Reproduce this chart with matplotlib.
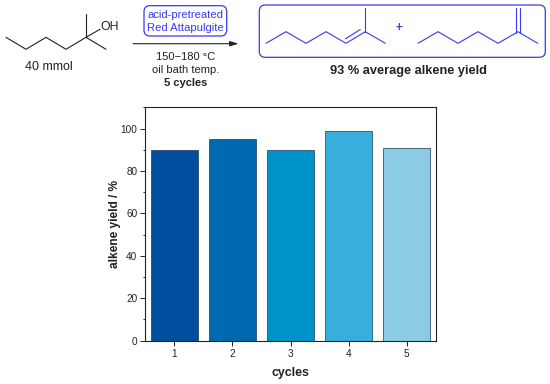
import matplotlib
matplotlib.use("Agg")
import matplotlib.pyplot as plt
from matplotlib.patches import FancyBboxPatch
from matplotlib.ticker import MultipleLocator

plt.rcParams['font.family'] = ['Liberation Sans', 'DejaVu Sans']

cycles = [1, 2, 3, 4, 5]
yields = [90, 95, 90, 99, 91]
bar_colors = ['#004f9f', '#0069b0', '#0093c9', '#37aedb', '#8ccbe4']
xlabel = 'cycles'
ylabel = 'alkene yield / %'

W, H = 550, 384
BLUE = '#3a3aee'
DARK = '#222222'

fig = plt.figure(figsize=(W / 100, H / 100), dpi=100, facecolor='white')

# overlay in pixel coordinates for the reaction scheme
ov = fig.add_axes([0, 0, 1, 1])
ov.set_xlim(0, W)
ov.set_ylim(H, 0)
ov.axis('off')


def line(pts, color=DARK, lw=0.8):
    ov.plot([p[0] for p in pts], [p[1] for p in pts], color=color, lw=lw,
            solid_capstyle='round', solid_joinstyle='round')


def label(x, y, s, size=8.0, color=DARK, weight='normal'):
    ov.text(x, y, s, fontsize=size, color=color, fontweight=weight,
            ha='center', va='center')


def rbox(x0, y0, x1, y1, r):
    ov.add_patch(FancyBboxPatch((x0 + r, y0 + r), x1 - x0 - 2 * r, y1 - y0 - 2 * r,
                                boxstyle=f'round,pad={r}', fc='none', ec=BLUE, lw=0.9))


# substrate
line([(6, 37.3), (26, 49.3), (46, 37.3), (66, 49.3), (86, 37.3), (106, 49.3)])
line([(86, 37.3), (86, 14)])
line([(86, 37.3), (100, 29.3)])
label(110, 27, 'OH', size=8.8)
label(49, 67, '40 mmol', size=9.0)

# arrow and conditions
ov.annotate('', xy=(238.5, 43.7), xytext=(133, 43.7),
            arrowprops=dict(arrowstyle='-|>,head_length=0.5,head_width=0.15',
                            color=DARK, lw=0.8, shrinkA=0, shrinkB=0))
rbox(144, 5.7, 226.7, 36, 6)
label(185, 14.7, 'acid-pretreated', size=8.1, color=BLUE)
label(185, 27.7, 'Red Attapulgite', size=8.1, color=BLUE)
label(185.5, 56.7, '150\u2212180 °C', size=8.0)
label(185.5, 70, 'oil bath temp.', size=8.0)
label(185.5, 83, '5 cycles', size=8.0, weight='bold')

# products
rbox(259.3, 5, 545.3, 57.3, 6)
line([(266, 43.3), (286, 31.7), (306, 43.3), (326, 31.7), (346, 43.3),
      (365.3, 31.7), (385.3, 43.3)], color=BLUE)
line([(365.3, 31.7), (365.3, 8.3)], color=BLUE)
line([(345.5, 38.8), (360.3, 29.5)], color=BLUE)
label(399, 28.3, '+', size=8.4, color=BLUE, weight='bold')
line([(418, 43.3), (438, 31.7), (458, 43.3), (478, 31.7), (498, 43.3),
      (518, 31.7), (537.7, 43.3)], color=BLUE)
line([(515.5, 33), (515.5, 8.3)], color=BLUE)
line([(520.3, 33), (520.3, 8.3)], color=BLUE)
label(408, 71, '93 % average alkene yield', size=9.2, weight='bold')

# bar chart
left, right, top, bottom = 145.3, 435.7, 107.3, 340.7
ax = fig.add_axes([left / W, 1 - bottom / H, (right - left) / W, (bottom - top) / H])
ax.bar(cycles, yields, width=0.8, color=bar_colors, edgecolor='#1c3a55', linewidth=0.5)
ax.set_xlim(0.5, 5.5)
ax.set_ylim(0, 110)
ax.set_xticks(cycles)
ax.yaxis.set_major_locator(MultipleLocator(20))
ax.yaxis.set_minor_locator(MultipleLocator(10))
ax.tick_params(axis='both', which='major', length=3.5, width=0.7, labelsize=7.2,
               colors=DARK, pad=2.2)
ax.tick_params(axis='y', which='minor', length=1.8, width=0.7, color=DARK)
for s in ax.spines.values():
    s.set_linewidth(0.8)
    s.set_color(DARK)
ax.set_xlabel(xlabel, fontsize=8.9, fontweight='bold', color=DARK, labelpad=6)
ax.set_ylabel(ylabel, fontsize=8.6, fontweight='bold', color=DARK, labelpad=-0.5)

fig.savefig('out.png', dpi=100)
